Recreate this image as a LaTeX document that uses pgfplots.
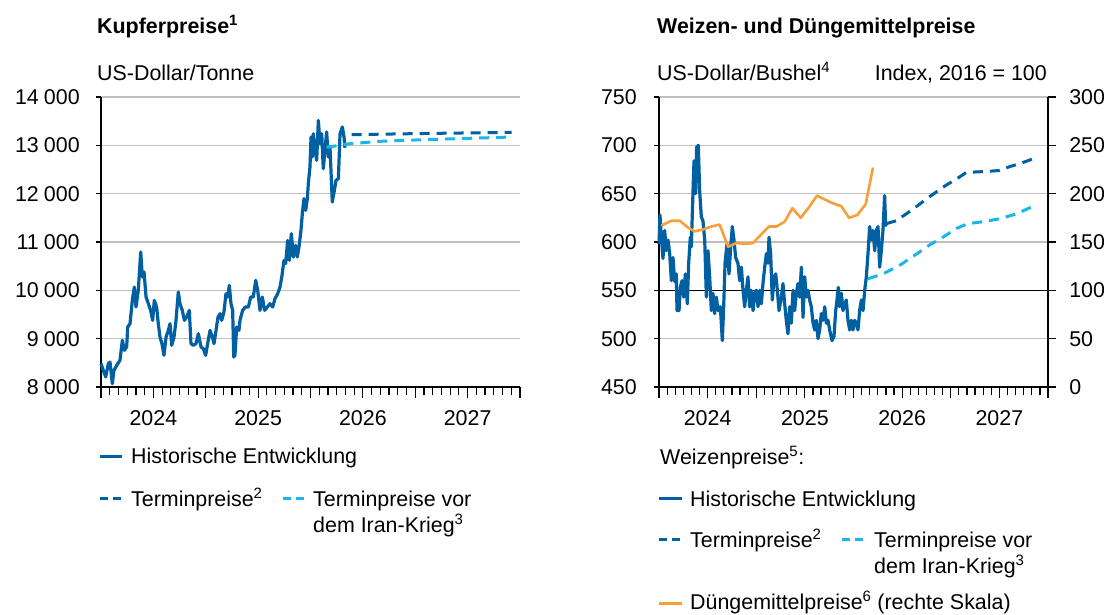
\documentclass[border=0pt]{standalone}
\usepackage{fontspec}
\setmainfont{Liberation Sans}
\usepackage{pgfplots}
\pgfplotsset{compat=1.18}
\definecolor{dblue}{RGB}{0,96,162}
\definecolor{lblue}{RGB}{28,181,232}
\definecolor{orng}{RGB}{248,158,58}
\definecolor{gridg}{RGB}{192,192,192}
\newcommand{\fs}{\fontsize{21.4}{25}\selectfont}
\begin{document}
\fs
\begin{tikzpicture}
\path[use as bounding box] (0,0) rectangle (1110pt,-614pt);
\pgfplotsset{
 base/.style={
  scale only axis, height=290pt,
  xmin=2024, xmax=2028,
  xtick={2024,2025,2026,2027,2028}, xticklabels={},
  minor x tick num=11,
  extra x ticks={2024.5,2025.5,2026.5,2027.5},
  extra x tick labels={2024,2025,2026,2027},
  extra x tick style={major tick length=0pt, grid=none, xticklabel style={yshift=-16pt}},
  tick align=outside,
  axis line style={-, line width=1.3pt, black},
  tick style={line width=1.2pt, black},
  major tick length=5pt, minor tick length=8pt,
  x tick style={/pgfplots/major tick length=11pt},
  ymajorgrids, major grid style={gridg, line width=1.2pt},
  tick label style={font=\fs},
  scaled y ticks=false,
  /pgf/number format/assume math mode=true,
  /pgf/number format/fixed,
  /pgf/number format/1000 sep={\hspace{0.24em}},
  axis x line*=bottom,
  clip=false,
 }
}
% ---------- left: copper ----------
\begin{axis}[base, at={(101pt,-387pt)}, anchor=south west, width=419pt,
  axis y line*=left, ymin=8000, ymax=14000, ytick={8000,9000,...,14000},
  yticklabel style={xshift=-9pt}]
\addplot[dblue, line width=3.2pt, line join=round] coordinates {
(2024.000,8483)(2024.022,8345)(2024.045,8207)(2024.070,8483)(2024.086,8517)(2024.108,8069)
(2024.124,8345)(2024.150,8448)(2024.181,8552)(2024.204,8966)(2024.223,8759)(2024.245,8828)
(2024.255,9241)(2024.277,9310)(2024.299,9793)(2024.318,10069)(2024.334,9655)(2024.356,10000)
(2024.379,10793)(2024.395,10276)(2024.411,10379)(2024.430,9862)(2024.452,9724)(2024.474,9586)
(2024.493,9379)(2024.509,9793)(2024.531,9655)(2024.547,9310)(2024.563,9034)(2024.582,8897)
(2024.601,8655)(2024.621,9034)(2024.643,9172)(2024.659,9310)(2024.675,8862)(2024.697,9034)
(2024.716,9379)(2024.738,9966)(2024.754,9724)(2024.776,9586)(2024.796,9379)(2024.818,9448)
(2024.843,9586)(2024.859,8897)(2024.881,8862)(2024.907,8897)(2024.929,9103)(2024.955,8828)
(2024.977,8793)(2024.999,8655)(2025.018,8897)(2025.041,9172)(2025.063,9034)(2025.079,8897)
(2025.098,9172)(2025.117,9448)(2025.136,9517)(2025.152,9379)(2025.174,9552)(2025.193,9931)
(2025.209,9862)(2025.225,10103)(2025.241,9724)(2025.257,9586)(2025.267,8621)(2025.279,8655)
(2025.295,9241)(2025.317,9172)(2025.327,9379)(2025.352,9586)(2025.378,9655)(2025.407,9655)
(2025.429,9862)(2025.454,9862)(2025.477,10207)(2025.496,10000)(2025.518,9586)(2025.540,9862)
(2025.562,9586)(2025.588,9655)(2025.613,9724)(2025.639,9655)(2025.661,9828)(2025.687,9931)
(2025.709,10069)(2025.728,10310)(2025.747,10621)(2025.763,10552)(2025.782,11034)(2025.798,10621)
(2025.817,11172)(2025.836,10690)(2025.858,10931)(2025.874,10690)(2025.890,10897)(2025.909,11241)
(2025.922,11586)(2025.938,11897)(2025.954,11655)(2025.970,11897)(2025.979,12207)(2025.995,12552)
(2026.005,13172)(2026.017,12759)(2026.027,13241)(2026.043,12897)(2026.059,12690)(2026.075,13517)
(2026.091,13034)(2026.107,13241)(2026.122,12517)(2026.138,12897)(2026.154,13276)(2026.170,12759)
(2026.186,12966)(2026.208,11828)(2026.228,12069)(2026.243,12276)(2026.266,12310)(2026.282,13241)
(2026.304,13379)(2026.320,13172)(2026.329,12950)};
\addplot[lblue, line width=3pt, dash pattern=on 10pt off 7pt] coordinates {
(2026.154,12960)(2026.377,13034)(2026.663,13083)(2027.077,13117)(2027.920,13172)};
\addplot[dblue, line width=3pt, dash pattern=on 10pt off 7pt] coordinates {
(2026.393,13221)(2027.077,13245)(2027.920,13269)};
\end{axis}
% ---------- right: wheat ----------
\begin{axis}[base, at={(659pt,-387pt)}, anchor=south west, width=389pt,
  axis y line*=left, ymin=450, ymax=750, ytick={450,500,...,750},
  yticklabel style={xshift=-10pt}]
\addplot[black, line width=1.3pt] coordinates {(2024,550)(2028,550)};
\addplot[dblue, line width=3.2pt, line join=round] coordinates {
(2024.000,598)(2024.010,628)(2024.024,605)(2024.041,583)(2024.058,612)(2024.075,591)
(2024.093,602)(2024.110,588)(2024.127,560)(2024.144,584)(2024.161,559)(2024.178,567)
(2024.185,529)(2024.206,529)(2024.219,553)(2024.237,560)(2024.254,543)(2024.271,567)
(2024.291,536)(2024.305,578)(2024.322,605)(2024.332,595)(2024.350,653)(2024.360,684)
(2024.377,650)(2024.387,698)(2024.404,700)(2024.418,653)(2024.435,626)(2024.452,622)
(2024.470,602)(2024.487,543)(2024.504,591)(2024.521,564)(2024.538,529)(2024.555,547)
(2024.572,526)(2024.590,543)(2024.607,529)(2024.631,533)(2024.651,498)(2024.665,533)
(2024.679,578)(2024.699,598)(2024.720,567)(2024.737,595)(2024.754,616)(2024.771,602)
(2024.788,584)(2024.812,578)(2024.829,560)(2024.847,574)(2024.864,550)(2024.881,533)
(2024.898,550)(2024.915,564)(2024.932,533)(2024.949,550)(2024.967,529)(2024.984,547)
(2025.001,550)(2025.018,533)(2025.035,550)(2025.052,536)(2025.069,557)(2025.087,574)
(2025.104,588)(2025.121,578)(2025.131,605)(2025.148,588)(2025.165,540)(2025.183,564)
(2025.200,567)(2025.217,550)(2025.234,529)(2025.258,543)(2025.275,557)(2025.292,536)
(2025.309,519)(2025.326,505)(2025.344,533)(2025.361,516)(2025.378,550)(2025.395,529)
(2025.412,547)(2025.429,557)(2025.446,543)(2025.464,574)(2025.481,522)(2025.498,564)
(2025.515,543)(2025.532,550)(2025.549,540)(2025.566,533)(2025.584,516)(2025.601,509)
(2025.618,519)(2025.635,500)(2025.652,509)(2025.669,526)(2025.686,519)(2025.704,533)
(2025.721,516)(2025.738,519)(2025.755,509)(2025.779,498)(2025.799,502)(2025.817,529)
(2025.830,540)(2025.844,553)(2025.858,533)(2025.875,547)(2025.892,529)(2025.909,536)
(2025.926,540)(2025.943,519)(2025.961,509)(2025.978,519)(2025.995,509)(2026.012,519)
(2026.029,516)(2026.046,509)(2026.063,529)(2026.081,540)(2026.098,529)(2026.115,550)
(2026.132,564)(2026.149,588)(2026.166,616)(2026.183,602)(2026.200,612)(2026.218,591)
(2026.235,612)(2026.252,616)(2026.269,574)(2026.286,591)(2026.303,612)(2026.320,648)
(2026.331,616)};
\addplot[lblue, line width=3pt, dash pattern=on 10pt off 7pt] coordinates {
(2026.149,562)(2026.303,567)(2026.475,576)(2026.612,585)(2026.783,597)(2026.920,605)
(2027.057,614)(2027.177,619)(2027.332,621)(2027.503,624)(2027.674,629)(2027.846,637)};
\addplot[dblue, line width=3pt, dash pattern=on 10pt off 7pt] coordinates {
(2026.338,619)(2026.440,622)(2026.612,634)(2026.783,647)(2026.955,659)(2027.057,665)
(2027.160,672)(2027.366,673)(2027.503,674)(2027.606,678)(2027.709,681)(2027.897,688)};
\end{axis}
\begin{axis}[scale only axis, height=290pt, width=389pt, at={(659pt,-387pt)}, anchor=south west,
  xmin=2024, xmax=2028, axis x line=none, axis y line*=right,
  ymin=0, ymax=300, ytick={0,50,...,300},
  tick align=outside, major tick length=8pt,
  axis line style={-, line width=1.3pt, black},
  tick style={line width=1.2pt, black},
  tick label style={font=\fs},
  /pgf/number format/assume math mode=true,
  yticklabel style={xshift=6pt}, clip=false]
\addplot[orng, line width=2.6pt, line join=round] coordinates {
(2024.024,167)(2024.127,172)(2024.213,172)(2024.298,165)(2024.367,161)(2024.452,163)
(2024.538,166)(2024.624,168)(2024.710,145)(2024.795,149)(2024.881,148)(2024.967,149)
(2025.052,158)(2025.131,166)(2025.207,166)(2025.292,171)(2025.371,185)(2025.457,175)
(2025.542,186)(2025.625,198)(2025.704,194)(2025.789,190)(2025.875,187)(2025.954,175)
(2026.039,178)(2026.125,189)(2026.200,227)};
\end{axis}
% ---------- titles ----------
\node[anchor=base west, inner sep=0] at (97pt,-33pt) {\bfseries Kupferpreise\textsuperscript{1}};
\node[anchor=base west, inner sep=0] at (97pt,-80pt) {US-Dollar/Tonne};
\node[anchor=base west, inner sep=0] at (657pt,-33pt) {\bfseries Weizen- und Düngemittelpreise};
\node[anchor=base west, inner sep=0] at (657pt,-80pt) {US-Dollar/Bushel\textsuperscript{4}};
\node[anchor=base east, inner sep=0] at (1047pt,-80pt) {Index, 2016 = 100};
% ---------- legends ----------
\draw[dblue, line width=3pt] (100pt,-456pt) -- (122pt,-456pt);
\node[anchor=base west, inner sep=0] at (131pt,-463pt) {Historische Entwicklung};
\draw[dblue, line width=3pt, dash pattern=on 8pt off 5pt] (100pt,-498pt) -- (121pt,-498pt);
\node[anchor=base west, inner sep=0] at (131pt,-506pt) {Terminpreise\textsuperscript{2}};
\draw[lblue, line width=3pt, dash pattern=on 8pt off 5pt] (283pt,-498pt) -- (304pt,-498pt);
\node[anchor=base west, inner sep=0] at (313pt,-506pt) {Terminpreise vor};
\node[anchor=base west, inner sep=0] at (313pt,-532pt) {dem Iran-Krieg\textsuperscript{3}};

\node[anchor=base west, inner sep=0] at (660pt,-464pt) {Weizenpreise\textsuperscript{5}:};
\draw[dblue, line width=3pt] (659pt,-498pt) -- (682pt,-498pt);
\node[anchor=base west, inner sep=0] at (690pt,-506pt) {Historische Entwicklung};
\draw[dblue, line width=3pt, dash pattern=on 8pt off 5pt] (659pt,-539pt) -- (680pt,-539pt);
\node[anchor=base west, inner sep=0] at (690pt,-547pt) {Terminpreise\textsuperscript{2}};
\draw[lblue, line width=3pt, dash pattern=on 8pt off 5pt] (842pt,-539pt) -- (863pt,-539pt);
\node[anchor=base west, inner sep=0] at (874pt,-547pt) {Terminpreise vor};
\node[anchor=base west, inner sep=0] at (874pt,-573pt) {dem Iran-Krieg\textsuperscript{3}};
\draw[orng, line width=3pt] (659pt,-603pt) -- (682pt,-603pt);
\node[anchor=base west, inner sep=0] at (690pt,-609pt) {Düngemittelpreise\textsuperscript{6} (rechte Skala)};
\end{tikzpicture}
\end{document}
